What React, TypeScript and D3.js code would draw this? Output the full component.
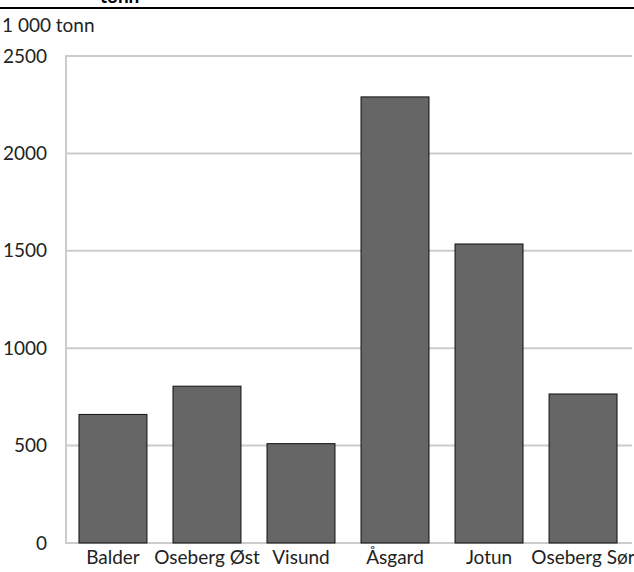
import React from "react";
import * as d3 from "d3";

const categories = ["Balder", "Oseberg Øst", "Visund", "Åsgard", "Jotun", "Oseberg Sør"];
const values = [660, 805, 510, 2290, 1535, 765];
const yTicks = [0, 500, 1000, 1500, 2000, 2500];
const unitLabel = "1 000 tonn";
const clippedTitle = "tonn";

export default function App() {
  const W = 634, H = 572;
  const left = 66, right = 630, top = 56, bottom = 543;
  const x = d3.scaleBand<string>().domain(categories).range([left, right]).paddingInner(0.277).paddingOuter(0.138);
  const y = d3.scaleLinear().domain([0, 2500]).range([bottom, top]);
  const font = "Lato, 'Open Sans', sans-serif";
  return (
    <svg width={W} height={H} style={{ position: "absolute", left: 0, top: 0, background: "#fff" }} fontFamily={font}>
      <text x={100} y={3} fontSize={19} fontWeight="bold" fill="#000">{clippedTitle}</text>
      <line x1={0} x2={W} y1={8} y2={8} stroke="#000" strokeWidth={2} />
      <text x={2} y={32} fontSize={19} fill="#222">{unitLabel}</text>
      {yTicks.map((t) => (
        <g key={t}>
          <line x1={left} x2={W - 2} y1={y(t)} y2={y(t)} stroke="#cccccc" strokeWidth={2} />
          <text x={47} y={y(t)} dy="0.35em" fontSize={19} textAnchor="end" fill="#222">{t}</text>
        </g>
      ))}
      <line x1={left} x2={left} y1={top - 1} y2={bottom + 1} stroke="#cccccc" strokeWidth={2} />
      {categories.map((c, i) => (
        <g key={c}>
          <rect x={x(c)!} y={y(values[i])} width={x.bandwidth()} height={bottom - y(values[i])} fill="#666666" stroke="#111" strokeWidth={1} />
          <text x={x(c)! + x.bandwidth() / 2} y={564} fontSize={19} textAnchor="middle" fill="#222">{c}</text>
        </g>
      ))}
    </svg>
  );
}
